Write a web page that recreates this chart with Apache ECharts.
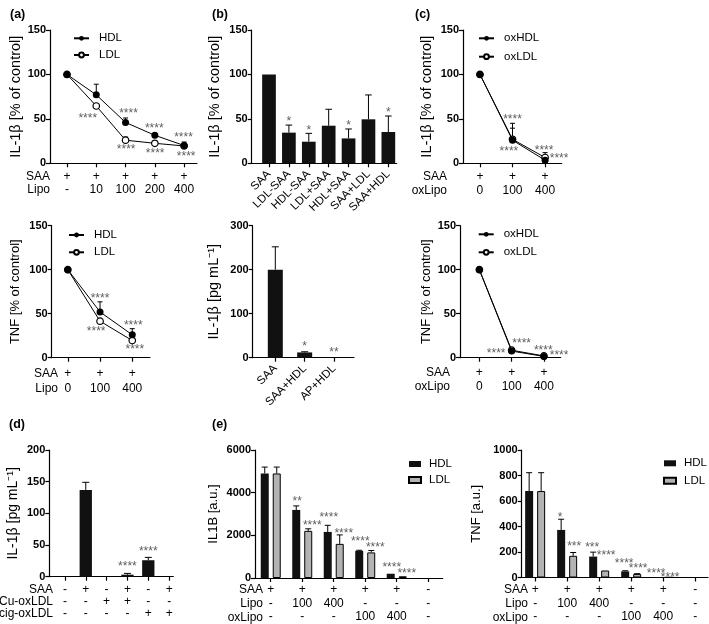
<!DOCTYPE html>
<html><head><meta charset="utf-8">
<script src="https://cdn.jsdelivr.net/npm/echarts@6/dist/echarts.min.js"></script>
<style>html,body{margin:0;padding:0;background:#fff}#c{width:709px;height:624px}</style>
</head><body><div id="c"></div>
<script>
// ================= DATA =================
// (a) IL-1β, % of control
const aLipo = ['-', '10', '100', '200', '400'];
const aSaa = ['+', '+', '+', '+', '+'];
const aIl1bHdl = [100, 77, 46, 31.5, 20];
const aIl1bHdlErr = [0, 12, 5, 2, 4];
const aIl1bLdl = [100, 64.5, 26, 22.5, 19.5];
const aIl1bLdlErr = [0, 0, 3.5, 0, 0];
const aIl1bStars = [[0.71, 54, '****'], [2.1, 59, '****'], [2.02, 18.5, '****'], [2.98, 42, '****'], [3.01, 14, '****'], [3.98, 32, '****'], [4.07, 10.5, '****']];
// (a) TNF, % of control
const aTnfLipo = ['0', '100', '400'];
const aTnfSaa = ['+', '+', '+'];
const aTnfHdl = [100, 52, 26];
const aTnfHdlErr = [0, 11.5, 7];
const aTnfLdl = [100, 41.5, 19.5];
const aTnfStars = [[1.0, 71, '****'], [0.88, 33.5, '****'], [2.03, 40, '****'], [2.08, 12.5, '****']];
// (b) IL-1β, % of control
const bCats = ['SAA', 'LDL-SAA', 'HDL-SAA', 'LDL+SAA', 'HDL+SAA', 'SAA+LDL', 'SAA+HDL'];
const bVals = [100, 34.5, 24.3, 42.3, 28, 49.5, 35.2];
const bErr = [0, 8.5, 9.4, 18.5, 10.6, 27.4, 18];
const bStars = [[1, 50.6, '*'], [2, 40, '*'], [4, 45.7, '*'], [6, 60, '*']];
// (b) IL-1β, pg/mL
const bPgCats = ['SAA', 'SAA+HDL', 'AP+HDL'];
const bPgVals = [200, 12, 0.5];
const bPgErr = [52, 1.5, 0];
const bPgStars = [[1, 31, '*'], [2, 17.5, '**']];
// (c) IL-1β, % of control (oxidized)
const cDose = ['0', '100', '400'];
const cSaa = ['+', '+', '+'];
const cIl1bOxHdl = [100, 26, 3.5];
const cIl1bOxHdlErr = [0, 19, 0];
const cIl1bOxLdl = [100, 27, 6.5];
const cIl1bOxLdlErr = [0, 12.5, 5.5];
const cIl1bStars = [[1.0, 52, '****'], [0.89, 16, '****'], [1.97, 17.5, '****'], [2.43, 8.2, '****']];
// (c) TNF, % of control (oxidized)
const cTnfOxHdl = [100, 7.5, 1.5];
const cTnfOxLdl = [100, 8.5, 2];
const cTnfStars = [[1.31, 19, '****'], [0.52, 8, '****'], [1.98, 11.8, '****'], [2.47, 5.7, '****']];
// (d) IL-1β, pg/mL
const dSaa = ['-', '+', '-', '+', '-', '+'];
const dCu = ['-', '-', '+', '+', '-', '-'];
const dCig = ['-', '-', '-', '-', '+', '+'];
const dVals = [0, 137, 0, 3.2, 26, 0];
const dErr = [0, 12, 0, 2, 4.5, 0];
const dStars = [[3, 20, '****'], [4, 44, '****']];
// (e) rows
const eSaa = ['+', '+', '+', '+', '+', '-'];
const eLipo = ['-', '100', '400', '-', '-', '-'];
const eOxLipo = ['-', '-', '-', '100', '400', '-'];
// (e) IL1B a.u.
const eIl1bHdl = [4900, 3190, 2160, 1270, 200, 0];
const eIl1bHdlErr = [300, 190, 310, 30, 0, 0];
const eIl1bLdl = [4900, 2210, 1600, 1200, 80, 0];
const eIl1bLdlErr = [300, 95, 420, 90, 0, 0];
const eIl1bHdlStars = [[1, 3740, '**'], [2, 2960, '****'], [3, 1823, '****'], [4, 622, '****']];
const eIl1bLdlStars = [[1, 2600, '****'], [2, 2225, '****'], [3, 1571, '****'], [4, 355, '****']];
// (e) TNF a.u.
const eTnfHdl = [678, 373, 164, 48, 4, 0];
const eTnfHdlErr = [144, 84, 35, 5, 0, 0];
const eTnfLdl = [678, 170, 55, 28, 2, 0];
const eTnfLdlErr = [144, 26, 0, 2, 0, 0];
const eTnfHdlStars = [[1, 491, '*'], [2, 256, '***'], [3, 131, '****'], [4, 52, '****']];
const eTnfLdlStars = [[1, 264, '***'], [2, 191, '****'], [3, 94, '****'], [4, 21, '****']];

// ================= BUILD =================
const FONT = '"Liberation Sans", Arial, sans-serif';
const grids = [], xAxes = [], yAxes = [], series = [], legends = [], graphics = [];
const BLK = '#111';

function rows(...arrs) { return arrs[0].map((_, i) => arrs.map(a => a[i]).join('\n')); }

function panel(c) {
  const gi = grids.length;
  grids.push({ left: c.left, top: c.top, width: c.width, height: c.height });
  const ticks = c.labels.map((_, i) => i);
  xAxes.push({
    gridIndex: gi, type: 'value', min: c.xmin, max: c.xmax, splitLine: { show: false },
    axisLine: { show: true, onZero: false, lineStyle: { color: '#000', width: 1.2 } },
    axisTick: { show: true, length: 4, customValues: ticks, lineStyle: { color: '#000', width: 1.2 } },
    axisLabel: { customValues: ticks, formatter: v => c.labels[Math.round(v)], color: '#000',
      fontSize: c.lfs || 12, lineHeight: c.lh || 14, margin: c.lm, rotate: c.rot || 0, fontFamily: FONT }
  });
  yAxes.push({
    gridIndex: gi, type: 'value', min: 0, max: c.ymax, interval: c.yint,
    name: c.yname, nameLocation: 'middle', nameGap: c.ng,
    nameTextStyle: { color: '#000', fontSize: c.nfs || 13, fontFamily: FONT },
    axisLine: { show: true, onZero: false, lineStyle: { color: '#000', width: 1.2 } },
    axisTick: { show: true, length: 4, lineStyle: { color: '#000', width: 1.2 } },
    axisLabel: { color: '#000', fontWeight: 'bold', fontSize: 11, margin: 4, fontFamily: FONT, formatter: v => String(v) },
    splitLine: { show: false }
  });
  if (c.rowTitles) {
    c.rowTitles.forEach((t, k) => graphics.push({
      type: 'text', x: c.rowX, y: c.rowY0 + k * c.lh,
      style: { text: t, fill: '#000', font: '12px ' + FONT, textAlign: 'right', textVerticalAlign: 'middle' }
    }));
  }
  return gi;
}

function lineS(gi, name, vals, filled) {
  series.push({
    type: 'line', name, xAxisIndex: gi, yAxisIndex: gi, z: filled ? 5 : 4,
    data: vals.map((v, i) => [i, v]),
    symbol: 'circle', symbolSize: filled ? 7 : 6.5,
    lineStyle: { color: '#000', width: 1 },
    itemStyle: { color: filled ? '#000' : '#fff', borderColor: '#000', borderWidth: filled ? 0 : 1.2 }
  });
}
function barS(gi, name, vals, width, color, border) {
  series.push({
    type: 'bar', name, xAxisIndex: gi, yAxisIndex: gi, z: 3, barWidth: width, barGap: '50%',
    data: vals.map((v, i) => [i, v > 0 ? v : null]),
    itemStyle: { color, borderColor: '#000', borderWidth: border ? 1 : 0 }
  });
}
function errS(gi, vals, errs, dx, cap) {
  const data = [];
  vals.forEach((v, i) => { if (errs[i] > 0) data.push([i, v, v + errs[i]]); });
  series.push({
    type: 'custom', xAxisIndex: gi, yAxisIndex: gi, z: 2, data, silent: true,
    renderItem: (p, api) => {
      const a = api.coord([api.value(0), api.value(1)]);
      const b = api.coord([api.value(0), api.value(2)]);
      const x = a[0] + dx;
      const st = { stroke: '#000', lineWidth: 1 };
      return { type: 'group', children: [
        { type: 'line', shape: { x1: x, y1: a[1], x2: x, y2: b[1] }, style: st },
        { type: 'line', shape: { x1: x - cap, y1: b[1], x2: x + cap, y2: b[1] }, style: st }
      ] };
    }
  });
}
function starS(gi, stars, dx) {
  series.push({
    type: 'scatter', xAxisIndex: gi, yAxisIndex: gi, z: 6, silent: true, symbolSize: 0.1,
    itemStyle: { color: 'rgba(0,0,0,0)' },
    data: stars.map(s => ({ value: [s[0], s[1]], name: s[2] })),
    label: { show: true, position: 'inside', formatter: '{b}', color: '#333', fontSize: 12,
      fontFamily: FONT, offset: [dx || 0, 3] }
  });
}
function legend(left, top, gap, names, bar) {
  legends.push({
    left, top, orient: 'vertical', itemGap: gap, selectedMode: false,
    itemWidth: bar ? 12 : 15, itemHeight: bar ? 6 : 6,
    data: names.map(n => bar ? { name: n, icon: 'rect' } : n),
    formatter: n => n.split('|')[0],
    textStyle: { color: '#000', fontSize: 11.5, fontFamily: FONT, lineHeight: 14, padding: [0, 0, 0, bar ? 3 : 5] }
  });
}
function label(t, x, y) {
  graphics.push({ type: 'text', x, y, style: { text: t, fill: '#000', font: 'bold 12.5px ' + FONT, textVerticalAlign: 'middle' } });
}

// (a) top
let g = panel({ left: 50, top: 30, width: 147, height: 133.3, xmin: -0.58, xmax: 4.44, ymax: 150, yint: 50,
  yname: 'IL-1β [% of control]', nfs: 14.5, ng: 27, labels: rows(aSaa, aLipo), lh: 13.3, lm: 6.8,
  rowTitles: ['SAA', 'Lipo'], rowX: 50, rowY0: 176.7 });
errS(g, aIl1bLdl, aIl1bLdlErr, 0, 2.5); errS(g, aIl1bHdl, aIl1bHdlErr, 0, 2.5);
lineS(g, 'LDL|a1', aIl1bLdl, false); lineS(g, 'HDL|a1', aIl1bHdl, true); starS(g, aIl1bStars);
legend(68, 26.3, 2.7, ['HDL|a1', 'LDL|a1']);

// (a) bottom
g = panel({ left: 51.7, top: 225.7, width: 98.3, height: 132, xmin: -0.5, xmax: 2.55, ymax: 150, yint: 50,
  yname: 'TNF [% of control]', ng: 30, labels: rows(aTnfSaa, aTnfLipo), lh: 15, lm: 8.1,
  rowTitles: ['SAA', 'Lipo'], rowX: 58, rowY0: 373.3 });
errS(g, aTnfHdl, aTnfHdlErr, 0, 2.5);
lineS(g, 'LDL|a2', aTnfLdl, false); lineS(g, 'HDL|a2', aTnfHdl, true); starS(g, aTnfStars);
legend(63, 223, 3.3, ['HDL|a2', 'LDL|a2']);

// (b) top
g = panel({ left: 251.7, top: 30, width: 145, height: 133.3, xmin: -0.87, xmax: 6.42, ymax: 150, yint: 50,
  yname: 'IL-1β [% of control]', nfs: 14.5, ng: 29, labels: bCats, lfs: 11.5, rot: 45, lm: 9 });
errS(g, bVals, bErr, 0, 3.3); barS(g, 'b1', bVals, 13.7, BLK); starS(g, bStars);

// (b) bottom
g = panel({ left: 252.7, top: 225.7, width: 101.3, height: 132, xmin: -0.77, xmax: 2.68, ymax: 300, yint: 100,
  yname: 'IL-1β [pg mL⁻¹]', nfs: 14.5, ng: 31, labels: bPgCats, lfs: 11.5, rot: 45, lm: 9 });
errS(g, bPgVals, bPgErr, 0, 3.5); barS(g, 'b2', bPgVals, 15, BLK); starS(g, bPgStars);

// (c) top
g = panel({ left: 463, top: 30, width: 98.7, height: 133.3, xmin: -0.52, xmax: 2.51, ymax: 150, yint: 50,
  yname: 'IL-1β [% of control]', nfs: 14.5, ng: 29, labels: rows(cSaa, cDose), lh: 13.7, lm: 6.9,
  rowTitles: ['SAA', 'oxLipo'], rowX: 447, rowY0: 177 });
errS(g, cIl1bOxLdl, cIl1bOxLdlErr, 0, 2.5); errS(g, cIl1bOxHdl, cIl1bOxHdlErr, 0, 2.5);
lineS(g, 'oxLDL|c1', cIl1bOxLdl, false); lineS(g, 'oxHDL|c1', cIl1bOxHdl, true); starS(g, cIl1bStars);
legend(473, 26.3, 4.4, ['oxHDL|c1', 'oxLDL|c1']);

// (c) bottom
g = panel({ left: 460, top: 225.7, width: 100.7, height: 132, xmin: -0.6, xmax: 2.52, ymax: 150, yint: 50,
  yname: 'TNF [% of control]', ng: 27, labels: rows(cSaa, cDose), lh: 13.8, lm: 8.1,
  rowTitles: ['SAA', 'oxLipo'], rowX: 450, rowY0: 372.7 });
lineS(g, 'oxLDL|c2', cTnfOxLdl, false); lineS(g, 'oxHDL|c2', cTnfOxHdl, true); starS(g, cTnfStars);
legend(472.7, 222.3, 4, ['oxHDL|c2', 'oxLDL|c2']);

// (d)
g = panel({ left: 49.3, top: 450, width: 124, height: 126.7, xmin: -0.75, xmax: 5.2, ymax: 200, yint: 50,
  yname: 'IL-1β [pg mL⁻¹]', nfs: 14, ng: 29, labels: rows(dSaa, dCu, dCig), lh: 11.7, lm: 7.5,
  rowTitles: ['SAA', 'Cu-oxLDL', 'cig-oxLDL'], rowX: 53, rowY0: 590 });
errS(g, dVals, dErr, 0, 3.5); barS(g, 'd', dVals, 12.3, BLK); starS(g, dStars);

// (e) IL1B
g = panel({ left: 255, top: 450, width: 187.7, height: 128.3, xmin: -0.5, xmax: 5.46, ymax: 6000, yint: 2000,
  yname: 'IL1B [a.u.]', ng: 35, labels: rows(eSaa, eLipo, eOxLipo), lh: 13.7, lm: 4.9,
  rowTitles: ['SAA', 'Lipo', 'oxLipo'], rowX: 263, rowY0: 590 });
errS(g, eIl1bHdl, eIl1bHdlErr, -6, 3); errS(g, eIl1bLdl, eIl1bLdlErr, 6, 3);
barS(g, 'HDL|e1', eIl1bHdl, 8, BLK); barS(g, 'LDL|e1', eIl1bLdl, 8, '#b3b3b3', true);
starS(g, eIl1bHdlStars, -5); starS(g, eIl1bLdlStars, 10);
legend(403, 452, 2, ['HDL|e1', 'LDL|e1'], true);

// (e) TNF
g = panel({ left: 521.7, top: 450, width: 186.3, height: 127.7, xmin: -0.42, xmax: 5.4, ymax: 1000, yint: 200,
  yname: 'TNF [a.u.]', ng: 39, labels: rows(eSaa, eLipo, eOxLipo), lh: 13.7, lm: 5.4,
  rowTitles: ['SAA', 'Lipo', 'oxLipo'], rowX: 528, rowY0: 590 });
errS(g, eTnfHdl, eTnfHdlErr, -6, 3); errS(g, eTnfLdl, eTnfLdlErr, 6, 3);
barS(g, 'HDL|e2', eTnfHdl, 8, BLK); barS(g, 'LDL|e2', eTnfLdl, 8, '#b3b3b3', true);
starS(g, eTnfHdlStars, -7); starS(g, eTnfLdlStars, 7);
legend(658, 451.3, 3.4, ['HDL|e2', 'LDL|e2'], true);

label('(a)', 10, 15); label('(b)', 212, 15); label('(c)', 415, 15);
label('(d)', 9, 425); label('(e)', 212, 425);

const chart = echarts.init(document.getElementById('c'), null, { renderer: 'canvas' });
chart.setOption({
  animation: false, backgroundColor: '#fff',
  textStyle: { fontFamily: FONT },
  grid: grids, xAxis: xAxes, yAxis: yAxes, series, legend: legends, graphic: graphics
});
</script></body></html>
